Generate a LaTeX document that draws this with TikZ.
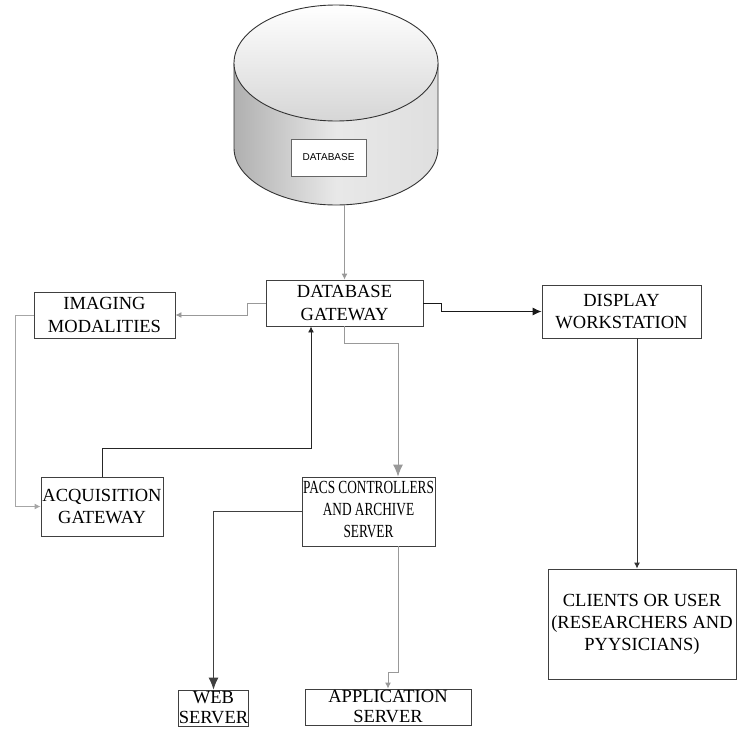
\documentclass[tikz,border=0pt]{standalone}
\usepackage{fontspec}
\setmainfont{Liberation Serif}
\setsansfont{Liberation Sans}
\usepackage{graphicx}
\usetikzlibrary{positioning,arrows.meta}
\tikzset{
box/.style={draw=black!75, line width=0.9pt, inner sep=0pt, align=center,
  font=\fontsize{18.5}{22.5}\selectfont},
small box/.style={box, font=\fontsize{18.5}{20}\selectfont},
conn/.style={line width=0.9pt},
tip/.style={-{Latex[length=6pt,width=6pt]}},
big tip/.style={-{Latex[length=12pt,width=10pt]}}
}
\begin{document}
\begin{tikzpicture}[x=1pt,y=-1pt]
  \useasboundingbox (0,0) rectangle (741,728);
  % the database drum
  \shade[left color=gray!62, right color=gray!25, middle color=gray!18, draw=black!80, line width=0.9pt]
    (234,63) -- (234,148) arc[start angle=180, end angle=0, x radius=102, y radius=57]
    -- (438,63) -- cycle;
  \shade[top color=white, bottom color=gray!32, draw=black!80, line width=0.9pt]
    (336,63) ellipse[x radius=102, y radius=58];
  \node[draw=black!60, fill=white, line width=0.9pt, minimum width=75pt, minimum height=37pt,
    font=\sffamily\fontsize{10}{12}\selectfont] (db) at (328.5,157.5) {DATABASE};
  \coordinate (dbbot) at (344.5,205);
  % boxes
  \node[box, minimum width=157pt, minimum height=46pt] (gw) at (344.5,303) {DATABASE\\GATEWAY};
  \node[box, minimum width=141pt, minimum height=46pt] (img) at (104.5,315) {IMAGING\\MODALITIES};
  \node[box, minimum width=159pt, minimum height=53pt] (disp) at (621.5,311.5) {DISPLAY\\WORKSTATION};
  \node[box, minimum width=122pt, minimum height=59pt] (acq) at (102,506.5) {ACQUISITION\\GATEWAY};
  \node[box, minimum width=133pt, minimum height=69pt, font=\fontsize{18.5}{22}\selectfont] (pacs) at (368.5,511.5)
    {\scalebox{.72}[1]{\begin{tabular}{@{}c@{}}PACS CONTROLLERS\\AND ARCHIVE\\SERVER\end{tabular}}};
  \node[box, minimum width=188pt, minimum height=110pt, font=\fontsize{18.5}{22}\selectfont] (clients) at (642,624)
    {\raisebox{-5pt}{\begin{tabular}{@{}c@{}}CLIENTS OR USER\\(RESEARCHERS AND\\PYYSICIANS)\end{tabular}}};
  \node[small box, minimum width=69pt, minimum height=36pt] (web) at (213.5,708) {WEB\\SERVER};
  \node[small box, minimum width=166pt, minimum height=36pt] (app) at (388,707) {APPLICATION\\SERVER};
  % connectors
  \draw[conn, gray!80, tip] (dbbot) -- (gw.north);
  \draw[conn, gray!80, tip] (gw.west) -- ++(-18,0) |- (img.east);
  \draw[conn, gray!70, tip] (img.west) -- ++(-18,0) |- (acq.west);
  \draw[conn, black!85, tip] (acq.north) -- ++(0,-28) -| ([xshift=-33.5]gw.south);
  \draw[conn, gray!80, big tip] (gw.south) -- ++(0,17) -| ([xshift=29.5]pacs.north);
  \draw[conn, black!90, -{Latex[length=9pt,width=8pt]}] (gw.east) -- ++(18,0) |- (disp.west);
  \draw[conn, black!80, tip] ([xshift=15.5]disp.south) -- ([xshift=15.5]disp.south |- clients.north);
  \draw[conn, black!75, big tip] (pacs.west) -| (web.north);
  \draw[conn, gray!80, tip] ([xshift=29.5]pacs.south) -- ++(0,126) -| (app.north);
\end{tikzpicture}
\end{document}
